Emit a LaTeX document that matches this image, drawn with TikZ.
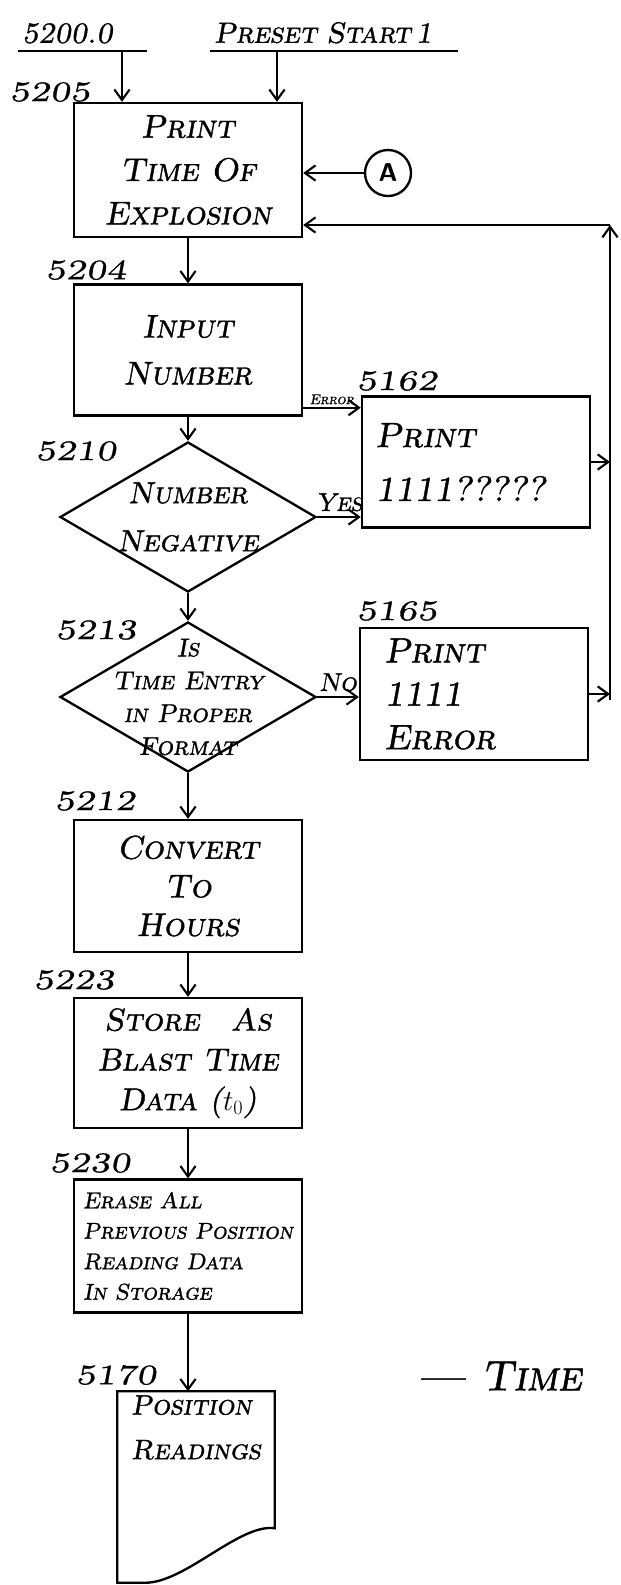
\documentclass[tikz,border=0pt]{standalone}
\usepackage{fontspec}
\newfontfamily\handfont[FakeSlant=0.18, FakeBold=1.2]{lmromancaps10-regular.otf}
\newfontfamily\numfont[FakeSlant=0.18, FakeBold=1.2, FakeStretch=1.3]{lmromancaps10-regular.otf}
\usetikzlibrary{shapes.geometric,arrows.meta,positioning}

\begin{document}
\begin{tikzpicture}[x=0.03cm, y=-0.03cm,
  blk/.style={rectangle, draw=black, line width=2pt, minimum width=6.84cm, align=center,
              inner sep=2pt, font=\handfont\fontsize{28}{37}\selectfont},
  side/.style={blk, align=left, text width=6.03cm, inner xsep=0.39cm},
  dec/.style={diamond, draw=black, line width=2pt, minimum width=7.68cm, minimum height=4.5cm, inner sep=0pt},
  dectxt/.style={align=center, inner sep=0pt, font=\handfont\fontsize{22}{28}\selectfont},
  num/.style={font=\numfont\fontsize{24}{26}\selectfont},
  entry/.style={anchor=south west, align=left, inner xsep=0.12cm, inner ysep=0.22cm,
                font=\handfont\fontsize{25}{28}\selectfont},
  tag/.style={above, inner sep=4pt, font=\handfont\fontsize{22}{24}\selectfont},
  arr/.style={-{Straight Barb[length=9pt,width=13pt]}, line width=1.8pt}]
  \useasboundingbox (0,0) rectangle (621,1585);

  % entry points
  \node[entry, text width=3.63cm] (e5200) at (18,51) {5200.0};
  \node[entry, text width=7.2cm] (epreset) at (210,51) {Preset Start\,1};
  \draw[line width=2pt] (e5200.south west) -- (e5200.south east);
  \draw[line width=2pt] (epreset.south west) -- (epreset.south east);
  \coordinate (s1) at (122,51);
  \coordinate (s2) at (277,51);

  % main column
  \node[blk, minimum height=4.02cm] (b5205) at (188,170) {Print\\Time Of\\Explosion};
  \node[blk, minimum height=3.93cm, font=\handfont\fontsize{28}{40}\selectfont] (b5204) at (188,350) {Input\\Number};
  \node[dec] (d5210) at (188,517) {};
  \node[dectxt, font=\handfont\fontsize{26}{41}\selectfont] (t5210) at (d5210) {Number\\Negative};
  \node[dec] (d5213) at (188,697) {};
  \node[dectxt] (t5213) at (d5213) {Is\\Time Entry\\in Proper\\Format};
  \node[blk, minimum height=3.96cm, font=\handfont\fontsize{28}{33}\selectfont] (b5212) at (188,886) {Convert\\To\\Hours};
  \node[blk, minimum height=3.9cm, font=\handfont\fontsize{27}{34}\selectfont] (b5223) at (188,1063) {Store\quad As\\Blast Time\\Data ($t_0$)};
  \node[blk, minimum height=3.99cm, align=left, inner xsep=3pt, font=\handfont\fontsize{19.5}{26}\selectfont] (b5230) at (188,1246) {Erase All\\Previous Position\\Reading Data\\In Storage};

  % document 5170
  \node[minimum width=4.71cm, minimum height=5.73cm, inner sep=0pt] (r5170) at (196,1487) {};
  \draw[line width=2pt] (r5170.south west) -- (r5170.north west) -- (r5170.north east)
    -- ([yshift=1.635cm]r5170.south east) .. controls +(-35,-5) and +(40,0) .. ([xshift=0.84cm]r5170.south west) -- cycle;
  \node[align=left, font=\handfont\fontsize{24}{38}\selectfont, below=0cm of r5170.north] (t5170) {Position\\Readings};

  % side column
  \node[side, minimum height=3.93cm, font=\handfont\fontsize{30}{46}\selectfont] (p5162) at (476,462) {Print\\1111?????};
  \node[side, minimum height=3.96cm, text width=5.37cm, inner xsep=0.72cm, font=\handfont\fontsize{30}{37}\selectfont] (p5165) at (474,694) {Print\\1111\\Error};
  \node[circle, draw=black, line width=2pt, minimum size=1.38cm, inner sep=0pt,
        font=\sffamily\bfseries\fontsize{22}{22}\selectfont] (conA) at (388,173) {A};
  \node[font=\handfont\fontsize{36}{36}\selectfont] (ttime) at (500,1376) {— Time};

  % reference numbers
  \node[num] (l5205) at (50,92) {5205};
  \node[num] (l5204) at (86,270) {5204};
  \node[num] (l5210) at (76,451) {5210};
  \node[num] (l5213) at (96,630) {5213};
  \node[num] (l5212) at (95,801) {5212};
  \node[num] (l5223) at (74,980) {5223};
  \node[num] (l5230) at (90,1163) {5230};
  \node[num] (l5170) at (116,1375) {5170};
  \node[num] (l5162) at (397,381) {5162};
  \node[num] (l5165) at (397,611) {5165};

  % flow
  \draw[arr] (s1) -- (s1 |- b5205.north);
  \draw[arr] (s2) -- (s2 |- b5205.north);
  \draw[arr] (conA) -- (conA -| b5205.east);
  \draw[arr] (b5205) -- (b5204);
  \draw[arr] (b5204) -- (d5210.north);
  \coordinate (err) at ([yshift=0.27cm]b5204.south east);
  \draw[arr] (err) -- (err -| p5162.west) node[midway, above, inner sep=2pt, font=\handfont\fontsize{12}{13}\selectfont] {Error};
  \draw[arr] (d5210.east) -- (d5210.east -| p5162.west) node[tag, midway] {Yes};
  \draw[arr] (d5210.south) -- (d5213.north);
  \draw[arr] (d5213.east) -- (d5213.east -| p5165.west) node[tag, midway] {No};
  \draw[arr] (d5213.south) -- (b5212.north);
  \draw[arr] (b5212) -- (b5223);
  \draw[arr] (b5223) -- (b5230);
  \draw[arr] (b5230.south) -- (b5230.south |- r5170.north);

  % return to 5205
  \coordinate (rtop) at (610,225);
  \coordinate (rbot) at (610,700);
  \draw[arr] (p5162.east) -- (p5162.east -| rtop);
  \draw[arr] (p5165.east) -- (p5165.east -| rtop);
  \draw[arr] (rbot) -- (rtop);
  \draw[arr] (rtop) -- (rtop -| b5205.east);
\end{tikzpicture}
\end{document}
